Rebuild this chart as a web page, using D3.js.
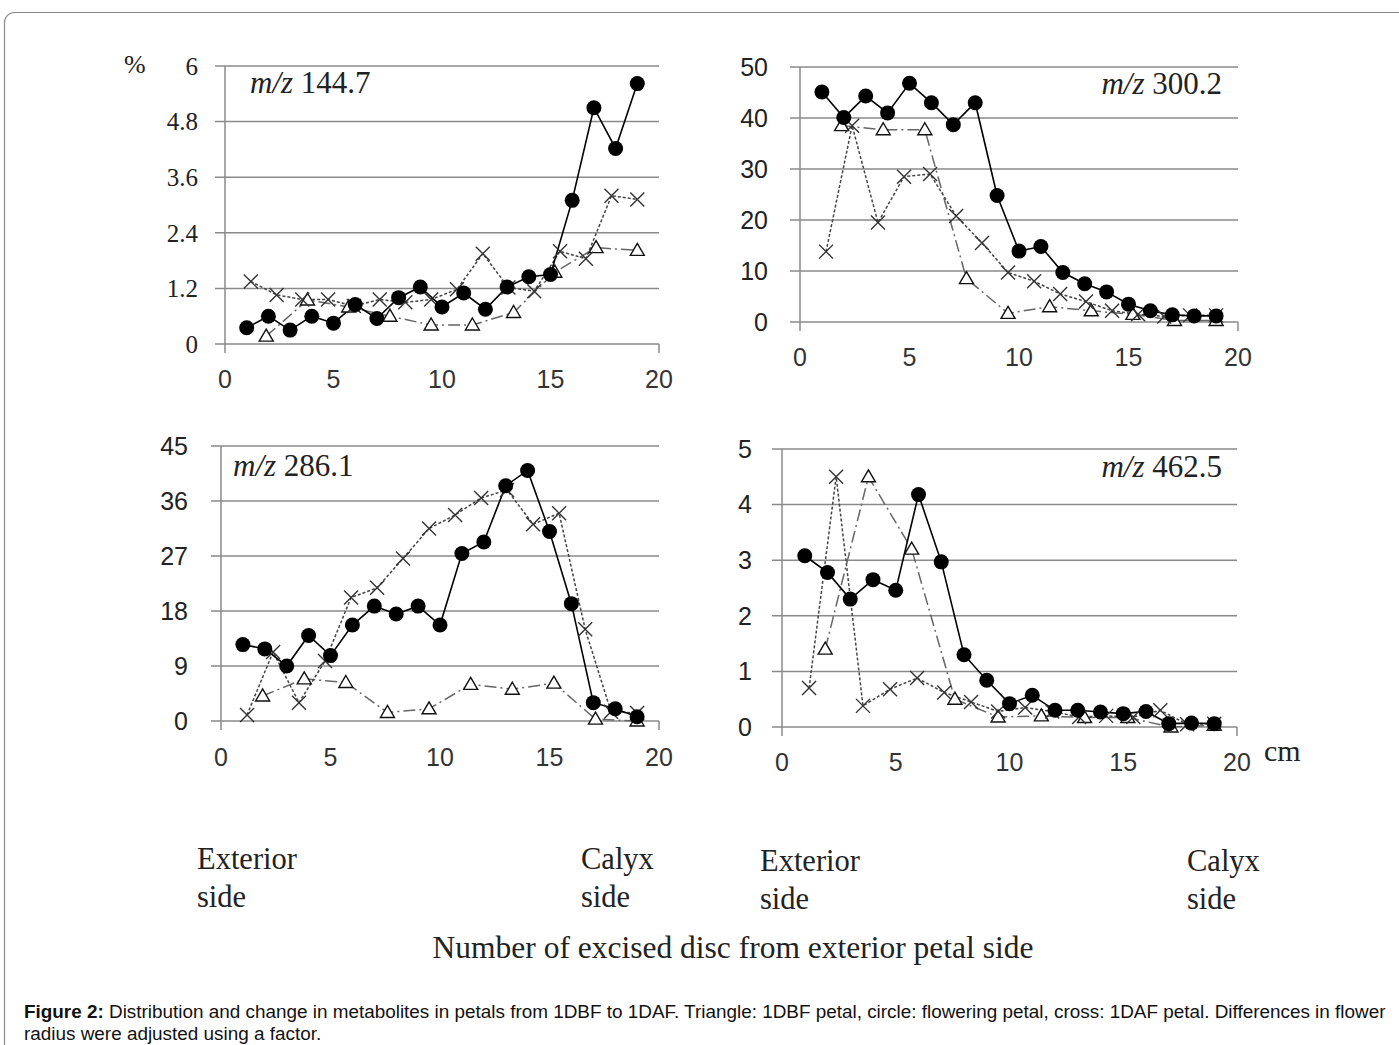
<!DOCTYPE html>
<html>
<meta charset="utf-8">
<style>
  body { margin: 0; background: #fff; }
  svg { display: block; }
</style>
<body>
<script src="https://d3js.org/d3.v7.min.js"></script>
<script>
// disc position along the petal (cm)
var circleX = [1, 2, 3, 4, 5, 6, 7, 8, 9, 10, 11, 12, 13, 14, 15, 16, 17, 18, 19];
var crossX = [1.19, 2.38, 3.56, 4.75, 5.94, 7.13, 8.31, 9.5, 10.69, 11.88, 13.06, 14.25, 15.44, 16.63, 17.81, 19.0];
var triX = [1.9, 3.8, 5.7, 7.6, 9.5, 11.4, 13.3, 15.2, 17.1, 19.0];
var xTicks = [0, 5, 10, 15, 20];

// m/z 144.7
var circle144 = [0.35, 0.6, 0.3, 0.6, 0.45, 0.85, 0.55, 1.0, 1.23, 0.8, 1.1, 0.75, 1.23, 1.45, 1.5, 3.1, 5.1, 4.22, 5.62];
var cross144 = [1.35, 1.06, 0.96, 0.96, 0.82, 0.96, 0.9, 0.96, 1.18, 1.95, 1.22, 1.14, 2.0, 1.84, 3.2, 3.12];
var tri144 = [0.17, 0.95, 0.8, 0.6, 0.41, 0.41, 0.68, 1.55, 2.08, 2.02];
var ticks144 = [0, 1.2, 2.4, 3.6, 4.8, 6];

// m/z 300.2
var circle300 = [45.1, 40.1, 44.3, 41.0, 46.8, 43.0, 38.7, 43.0, 24.8, 13.9, 14.8, 9.7, 7.5, 5.9, 3.5, 2.2, 1.4, 1.2, 1.2];
var cross300 = [13.8, 38.5, 19.5, 28.5, 29.0, 20.8, 15.5, 9.7, 8.0, 5.5, 4.0, 2.2, 1.5, 1.1, 1.3, 1.3];
var tri300 = [38.5, 37.7, 37.7, 8.5, 1.7, 3.0, 2.2, 1.5, 0.3, 0.3];
var ticks300 = [0, 10, 20, 30, 40, 50];

// m/z 286.1
var circle286 = [12.5, 11.8, 9.0, 14.0, 10.7, 15.7, 18.8, 17.5, 18.8, 15.7, 27.4, 29.3, 38.5, 41.0, 31.0, 19.2, 3.0, 2.0, 0.7];
var cross286 = [1.0, 11.3, 3.0, 9.8, 20.2, 21.8, 26.6, 31.5, 33.7, 36.5, 37.8, 32.2, 34.0, 15.0, 1.5, 1.3];
var tri286 = [4.1, 6.9, 6.3, 1.4, 2.0, 6.0, 5.2, 6.2, 0.3, 0];
var ticks286 = [0, 9, 18, 27, 36, 45];

// m/z 462.5
var circle462 = [3.08, 2.78, 2.3, 2.65, 2.46, 4.18, 2.97, 1.3, 0.84, 0.42, 0.57, 0.3, 0.3, 0.27, 0.24, 0.28, 0.06, 0.07, 0.06];
var cross462 = [0.7, 4.5, 0.38, 0.68, 0.88, 0.62, 0.45, 0.28, 0.35, 0.28, 0.18, 0.2, 0.18, 0.3, 0.05, 0.06];
var tri462 = [1.4, 4.5, 3.2, 0.5, 0.18, 0.2, 0.17, 0.17, 0.0, 0.03];
var ticks462 = [0, 1, 2, 3, 4, 5];

var W = 1399, H = 1045;
var serif = "'Liberation Serif', 'Times New Roman', serif";
var sans = "'Liberation Sans', Arial, sans-serif";

var svg = d3.select("body").append("svg")
    .attr("width", W)
    .attr("height", H);

svg.append("rect").attr("width", W).attr("height", H).attr("fill", "#fff");

// outer frame of the figure
svg.append("rect")
    .attr("x", 4.5).attr("y", 12.5)
    .attr("width", 1430).attr("height", 1080)
    .attr("rx", 10)
    .attr("fill", "none")
    .attr("stroke", "#888")
    .attr("stroke-width", 1.2);

var panels = [
  {label: "144.7", left: 225, right: 659, top: 66, bottom: 344, ticks: ticks144,
   circle: circle144, cross: cross144, tri: tri144, yFont: serif, yGap: 27, labelX: 250, labelY: 82, anchor: "start", xLabY: 379},
  {label: "300.2", left: 800, right: 1238, top: 67, bottom: 322, ticks: ticks300,
   circle: circle300, cross: cross300, tri: tri300, yFont: sans, yGap: 32, labelX: 1222, labelY: 83, anchor: "end", xLabY: 357},
  {label: "286.1", left: 221, right: 659, top: 446, bottom: 721, ticks: ticks286,
   circle: circle286, cross: cross286, tri: tri286, yFont: sans, yGap: 33, labelX: 233, labelY: 465, anchor: "start", xLabY: 757},
  {label: "462.5", left: 782, right: 1237, top: 449, bottom: 727, ticks: ticks462,
   circle: circle462, cross: cross462, tri: tri462, yFont: sans, yGap: 30, labelX: 1222, labelY: 466, anchor: "end", xLabY: 762}
];

panels.forEach(function(p) {
  var x = d3.scaleLinear().domain([0, 20]).range([p.left, p.right]);
  var y = d3.scaleLinear().domain([0, d3.max(p.ticks)]).range([p.bottom, p.top]);
  var g = svg.append("g");

  // gridlines
  g.selectAll(".grid").data(p.ticks).join("line")
      .attr("x1", p.left - 10).attr("x2", p.right)
      .attr("y1", d => y(d)).attr("y2", d => y(d))
      .attr("stroke", "#8a8a8a").attr("stroke-width", 1.5);

  // axes
  g.append("line")
      .attr("x1", p.left).attr("x2", p.left)
      .attr("y1", p.top).attr("y2", p.bottom + 9)
      .attr("stroke", "#8a8a8a").attr("stroke-width", 1.5);
  g.append("line")
      .attr("x1", p.right).attr("x2", p.right)
      .attr("y1", p.bottom).attr("y2", p.bottom + 9)
      .attr("stroke", "#8a8a8a").attr("stroke-width", 1.5);

  // y tick labels
  g.selectAll(".ylab").data(p.ticks).join("text")
      .attr("x", p.left - p.yGap)
      .attr("y", d => y(d))
      .attr("dy", "0.35em")
      .attr("text-anchor", "end")
      .style("font-family", p.yFont)
      .style("font-size", "25px")
      .attr("fill", "#222")
      .text(d => d);

  // x tick labels
  g.selectAll(".xlab").data(xTicks).join("text")
      .attr("x", d => x(d))
      .attr("y", p.xLabY)
      .attr("dy", "0.35em")
      .attr("text-anchor", "middle")
      .style("font-family", sans)
      .style("font-size", "25px")
      .attr("fill", "#333")
      .text(d => d);

  var line = d3.line().x(d => x(d[0])).y(d => y(d[1]));
  var triPts = d3.zip(triX, p.tri);
  var crossPts = d3.zip(crossX, p.cross);
  var circPts = d3.zip(circleX, p.circle);

  // series lines
  g.append("path").datum(triPts).attr("d", line)
      .attr("fill", "none").attr("stroke", "#666").attr("stroke-width", 1.5)
      .attr("stroke-dasharray", "12,4,2,4");
  g.append("path").datum(crossPts).attr("d", line)
      .attr("fill", "none").attr("stroke", "#444").attr("stroke-width", 1.5)
      .attr("stroke-dasharray", "3,2");
  g.append("path").datum(circPts).attr("d", line)
      .attr("fill", "none").attr("stroke", "#000").attr("stroke-width", 1.6);

  // markers
  g.selectAll(".tri").data(triPts).join("path")
      .attr("transform", d => `translate(${x(d[0])},${y(d[1])})`)
      .attr("d", "M0,-7L7,5L-7,5Z")
      .attr("fill", "#fff").attr("stroke", "#111").attr("stroke-width", 1.4);
  g.selectAll(".cross").data(crossPts).join("path")
      .attr("transform", d => `translate(${x(d[0])},${y(d[1])})`)
      .attr("d", "M-7,-7L7,7M7,-7L-7,7")
      .attr("fill", "none").attr("stroke", "#333").attr("stroke-width", 1.4);
  g.selectAll(".circ").data(circPts).join("circle")
      .attr("cx", d => x(d[0])).attr("cy", d => y(d[1]))
      .attr("r", 7.5).attr("fill", "#000");

  // m/z annotation
  var t = g.append("text")
      .attr("x", p.labelX).attr("y", p.labelY)
      .attr("dy", "0.35em")
      .attr("text-anchor", p.anchor)
      .style("font-family", serif)
      .style("font-size", "31px")
      .attr("fill", "#222");
  t.append("tspan").style("font-style", "italic").text("m/z");
  t.append("tspan").text(" " + p.label);
});

// unit marks
svg.append("text").attr("x", 124).attr("y", 64).attr("dy", "0.35em")
    .style("font-family", serif).style("font-size", "26px").attr("fill", "#222").text("%");
svg.append("text").attr("x", 1264).attr("y", 750).attr("dy", "0.35em")
    .style("font-family", serif).style("font-size", "30px").attr("fill", "#222").text("cm");

// side labels
var sideLabels = [
  {x: 197, lines: ["Exterior", "side"], y: 858},
  {x: 581, lines: ["Calyx", "side"], y: 858},
  {x: 760, lines: ["Exterior", "side"], y: 860},
  {x: 1187, lines: ["Calyx", "side"], y: 860}
];
sideLabels.forEach(function(s) {
  s.lines.forEach(function(l, i) {
    svg.append("text").attr("x", s.x).attr("y", s.y + i * 38).attr("dy", "0.35em")
        .style("font-family", serif).style("font-size", "30.5px").attr("fill", "#222").text(l);
  });
});

svg.append("text").attr("x", 733).attr("y", 947).attr("dy", "0.35em")
    .attr("text-anchor", "middle")
    .style("font-family", serif).style("font-size", "31.5px").attr("fill", "#222")
    .text("Number of excised disc from exterior petal side");

// caption
var cap = svg.append("text").attr("x", 24).attr("y", 1018)
    .style("font-family", sans).style("font-size", "18.9px").attr("fill", "#111");
cap.append("tspan").style("font-weight", "bold").text("Figure 2:");
cap.append("tspan").text(" Distribution and change in metabolites in petals from 1DBF to 1DAF. Triangle: 1DBF petal, circle: flowering petal, cross: 1DAF petal. Differences in flower");
svg.append("text").attr("x", 24).attr("y", 1040)
    .style("font-family", sans).style("font-size", "18.9px").attr("fill", "#111")
    .text("radius were adjusted using a factor.");
</script>
</body>
</html>
